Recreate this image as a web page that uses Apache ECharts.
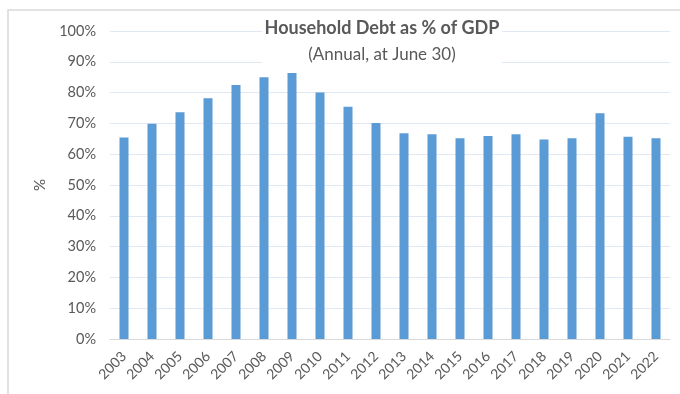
<!DOCTYPE html>
<html>
<head>
<meta charset="utf-8">
<script src="https://cdn.jsdelivr.net/npm/echarts@6/dist/echarts.min.js"></script>
<style>
  html, body { margin: 0; padding: 0; background: #fff; }
  #main { width: 680px; height: 394px; }
</style>
</head>
<body>
<div id="main"></div>
<script>
// 年份（6月30日）
var years = ['2003', '2004', '2005', '2006', '2007', '2008', '2009', '2010', '2011', '2012',
             '2013', '2014', '2015', '2016', '2017', '2018', '2019', '2020', '2021', '2022'];
// 家庭债务占GDP百分比
var debtPct = [65.4, 69.9, 73.6, 78.2, 82.5, 85.0, 86.4, 80.0, 75.4, 70.1,
               66.8, 66.5, 65.2, 65.9, 66.5, 64.8, 65.2, 73.3, 65.7, 65.2];

var myChart = echarts.init(document.getElementById('main'));

var font = 'Lato, "Open Sans", sans-serif';

var option = {
    animation: false,
    textStyle: { fontFamily: font },
    // 外边框 + 标题（白底盖住网格线）
    graphic: [{
        type: 'rect',
        shape: { x: 8, y: 10, width: 700, height: 400 },
        style: { fill: 'none', stroke: '#d9d9d9', lineWidth: 1.5 }
    }, {
        type: 'rect',
        z: 100,
        shape: { x: 262, y: 14, width: 240, height: 56 },
        style: { fill: '#fff' }
    }, {
        type: 'text',
        z: 101,
        x: 382, y: 28,
        style: {
            text: 'Household Debt as % of GDP',
            align: 'center', verticalAlign: 'middle',
            font: 'bold 18px ' + font, fill: '#595959'
        }
    }, {
        type: 'text',
        z: 101,
        x: 382, y: 55,
        style: {
            text: '(Annual, at June 30)',
            align: 'center', verticalAlign: 'middle',
            font: '17px ' + font, fill: '#595959'
        }
    }],
    grid: { left: 110, right: 10, top: 31, bottom: 55 },
    xAxis: {
        type: 'category',
        data: years,
        axisLine: { lineStyle: { color: '#d9d9d9' } },
        axisTick: { show: false },
        axisLabel: { rotate: 45, margin: 15, fontSize: 14, color: '#595959', fontFamily: font }
    },
    yAxis: {
        type: 'value',
        min: 0,
        max: 100,
        interval: 10,
        name: '%',
        nameLocation: 'middle',
        nameGap: 62,
        nameTextStyle: { fontSize: 15, color: '#595959', fontFamily: font },
        axisLabel: { formatter: '{value}%', margin: 14, fontSize: 14.5, color: '#595959', fontFamily: font },
        splitLine: { lineStyle: { color: '#dfe8f3', width: 1 } }
    },
    series: [{
        type: 'bar',
        data: debtPct,
        barWidth: 9,
        itemStyle: { color: '#5b9bd5' }
    }]
};
myChart.setOption(option);
</script>
</body>
</html>
